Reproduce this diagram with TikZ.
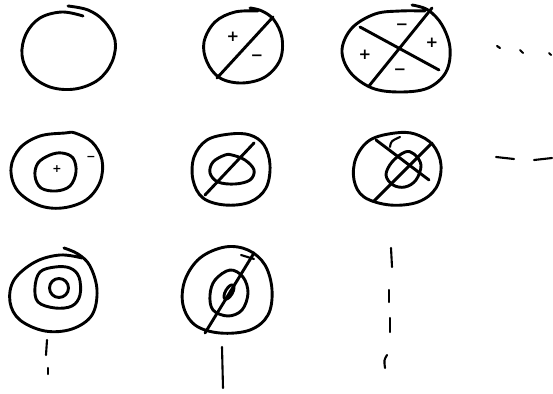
\documentclass[tikz,border=0pt]{standalone}
\usepackage{fontspec}
\newfontfamily\signfont{DejaVu Sans}
\begin{document}
\begin{tikzpicture}[x=1pt,y=-1pt,
  pen/.style={line width=2.9pt, line cap=round, line join=round},
  thin pen/.style={line width=2.1pt, line cap=round, line join=round},
  sign/.style={inner sep=0pt, font=\signfont\bfseries\fontsize{15}{15}\selectfont},
  small sign/.style={inner sep=0pt, font=\signfont\bfseries\fontsize{11}{11}\selectfont}]
\useasboundingbox (0,0) rectangle (553,393);
% ---------- row 1 ----------
% plain circle
\draw[pen] plot[smooth, tension=0.6] coordinates {(83,16) (62,12) (40,18) (26,34) (22,55) (30,74) (50,87) (75,89) (98,80) (112,62) (115,40) (104,21) (88,10) (68,6)};
% circle with one diameter
\draw[pen] plot[smooth, tension=0.6] coordinates {(258,11) (235,12) (215,22) (204,42) (207,62) (220,78) (242,83) (265,77) (280,60) (282,38) (274,20) (262,11) (250,8)};
\draw[pen] (273,17) -- (217,78);
\node[sign] (p1) at (233,37) {+};
\node[sign] (m1) at (257,58) {−};
% circle with two diameters
\draw[pen] plot[smooth, tension=0.6] coordinates {(425,11) (400,11) (375,14) (352,28) (342,50) (350,72) (372,88) (400,92) (428,88) (446,72) (450,48) (442,25) (428,10) (412,5)};
\draw[pen] (360,27) -- (439,70);
\draw[pen] (432,8) -- (369,86);
\node[sign] (m2) at (402,27) {−};
\node[sign] (p2) at (432,43) {+};
\node[sign] (p3) at (365,55) {+};
\node[sign] (m3) at (400,72) {−};
% dots
\draw[thin pen] (497,46) -- (500,48);
\draw[thin pen] (520,50) -- (523,53);
\draw[thin pen] (549,53) -- (551,55);
% ---------- row 2 ----------
\draw[pen] plot[smooth cycle, tension=0.6] coordinates {(65,133) (40,136) (20,148) (11,168) (17,190) (38,205) (62,208) (86,200) (100,182) (102,160) (92,142) (75,133)};
\draw[pen] plot[smooth cycle, tension=0.6] coordinates {(50,155) (38,163) (35,176) (41,188) (56,191) (70,186) (76,172) (73,158) (62,153)};
\node[small sign] (p4) at (57,169) {+};
\node[small sign] (m4) at (91,158) {−};
% circle with inner ring, one diameter
\draw[pen] plot[smooth cycle, tension=0.6] coordinates {(230,134) (207,140) (194,157) (193,180) (203,198) (225,205) (250,202) (266,188) (270,165) (264,145) (250,135)};
\draw[pen] plot[smooth cycle, tension=0.6] coordinates {(225,155) (213,162) (210,173) (218,182) (235,184) (250,180) (254,170) (245,160) (232,155)};
\draw[pen] (254,143) -- (205,195);
% circle with inner ring, two diameters
\draw[pen] plot[smooth cycle, tension=0.6] coordinates {(395,133) (370,140) (356,158) (354,180) (364,197) (390,205) (418,202) (436,188) (441,165) (433,145) (415,134)};
\draw[pen] plot[smooth cycle, tension=0.6] coordinates {(405,152) (392,162) (386,175) (393,185) (405,187) (416,180) (421,165) (414,154)};
\draw[thin pen] (390,147) .. controls (391,141) .. (400,137);
\draw[pen] (376,140) -- (429,180);
\draw[pen] (432,143) -- (374,201);
% dashes
\draw[thin pen] (496,157) -- (514,159);
\draw[thin pen] (534,160) -- (552,158);
% ---------- row 3 ----------
\draw[pen] plot[smooth, tension=0.6] coordinates {(82,258) (60,255) (35,262) (14,280) (10,302) (20,320) (45,331) (72,329) (92,315) (97,290) (90,266) (78,254) (64,248)};
\draw[pen] plot[smooth cycle, tension=0.6] coordinates {(55,267) (40,272) (35,287) (38,302) (55,308) (72,306) (80,295) (79,277) (70,268)};
\draw[pen] (59,288) circle[radius=9.5];
% circle with rings, one diameter
\draw[pen] plot[smooth cycle, tension=0.6] coordinates {(225,247) (200,258) (185,280) (183,305) (195,325) (220,333) (250,330) (268,315) (272,290) (265,265) (248,250)};
\draw[pen] plot[smooth cycle, tension=0.6] coordinates {(230,270) (215,280) (210,295) (213,310) (228,316) (242,310) (248,293) (243,277)};
\draw[pen] (229,292) ellipse[x radius=3.5, y radius=8, rotate=-30];
\draw[pen] (254,253) -- (205,333);
\draw[thin pen] (241,255) -- (254,259);
% vertical dashes
\draw[thin pen] (47,340) -- (46,355);
\draw[thin pen] (48,368) -- (48,374);
\draw[thin pen] (222,347) -- (223,388);
\draw[thin pen] (391,248) -- (392,267);
\draw[thin pen] (389,290) -- (389,302);
\draw[thin pen] (390,318) -- (390,332);
\draw[thin pen] (387,355) .. controls (384,360) .. (385,368);
\end{tikzpicture}
\end{document}
